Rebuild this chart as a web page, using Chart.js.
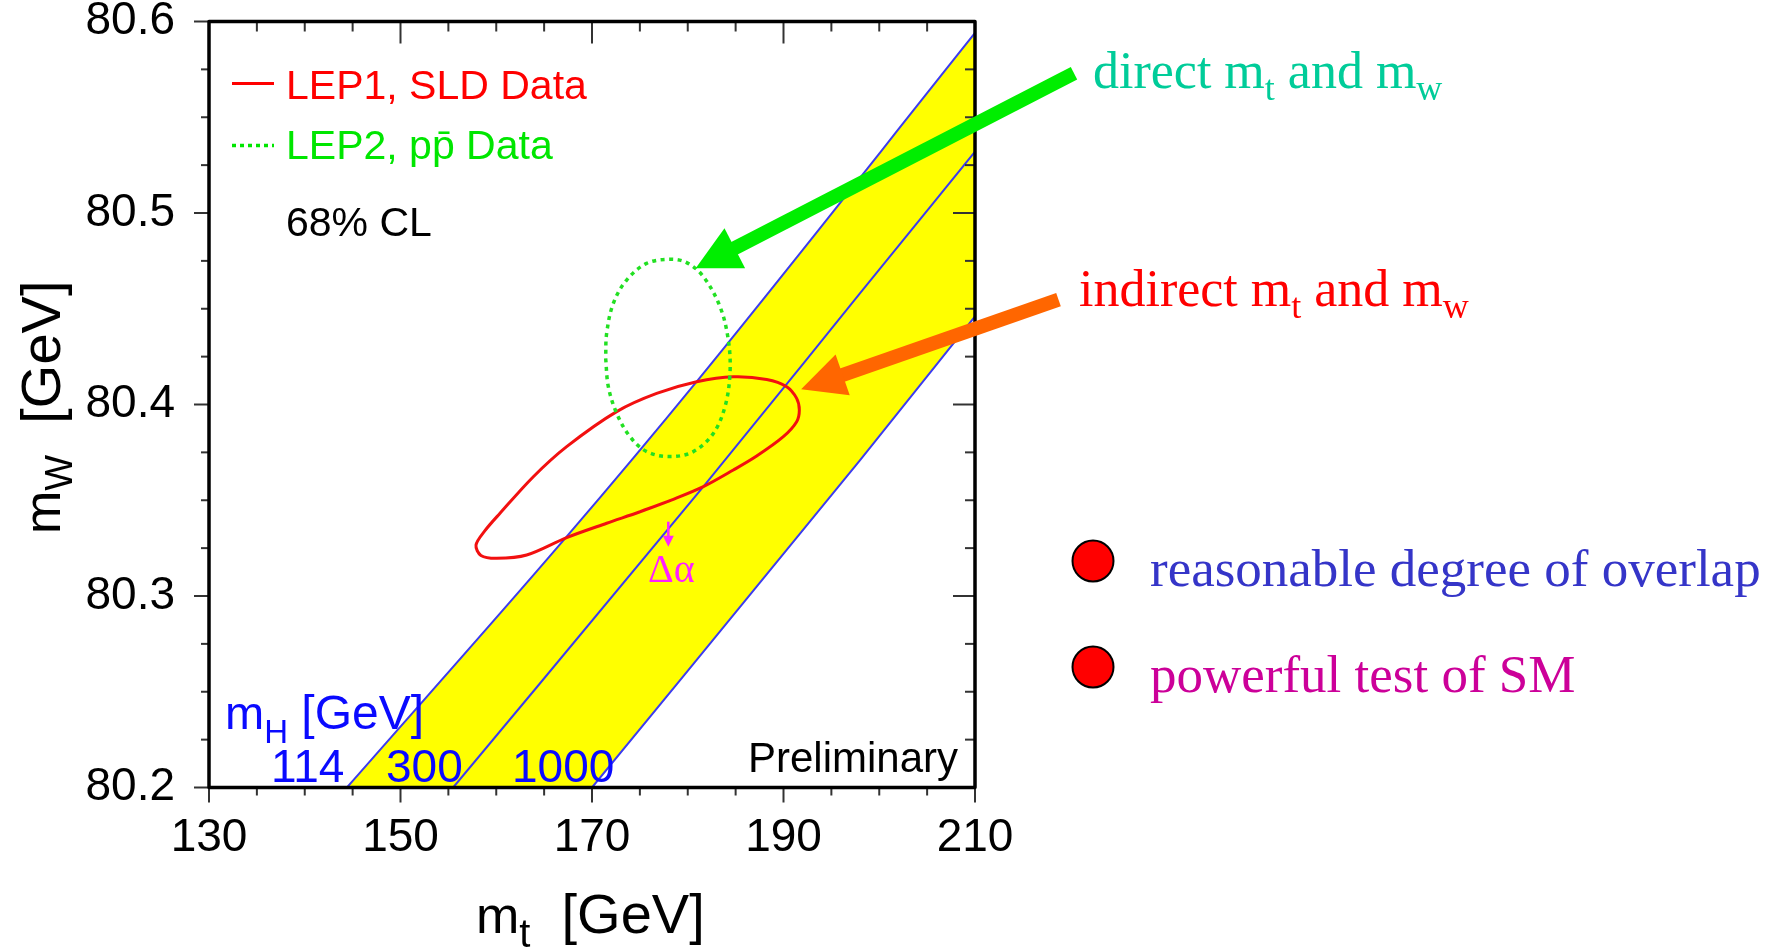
<!DOCTYPE html>
<html><head><meta charset="utf-8">
<script src="https://cdn.jsdelivr.net/npm/chart.js@4.4.1/dist/chart.umd.min.js"></script>
<style>html,body{margin:0;padding:0;background:#fff;}canvas{display:block;}</style>
</head><body>
<canvas id="c" width="1782" height="951"></canvas>
<script>
// ---------------- data ----------------
const mtRange = [130, 210];                 // m_t axis [GeV]
const mwRange = [80.2, 80.6];               // m_W axis [GeV]
const mtTickLabels = [130, 150, 170, 190, 210];
const mwTickLabels = [80.2, 80.3, 80.4, 80.5, 80.6];
const mtMinorStep = 5;
const mwMinorStep = 0.025;

// SM prediction lines for m_H = 114, 300, 1000 GeV  [m_t, m_W]
const smLine114  = [[144.4,80.2],[167.35,80.331],[180.93,80.412],[210,80.594]];
const smLine300  = [[155.5,80.2],[181.63,80.3571],[198.0,80.4581],[210,80.532]];
const smLine1000 = [[170.0,80.2],[198.0,80.371],[210,80.446]];
const higgsMassLabels = ['114', '300', '1000'];

// 68% CL contour, LEP1 + SLD (indirect)
const lep1Contour = [
  [175.013,80.3440],[178.494,80.3505],[181.627,80.3571],[184.760,80.3658],[187.197,80.3731],
  [189.982,80.3832],[191.375,80.3910],[191.653,80.3971],[191.375,80.4032],[190.330,80.4093],
  [188.242,80.4131],[184.760,80.4145],[180.931,80.4119],[176.753,80.4058],[172.576,80.3963],
  [167.354,80.3780],[163.873,80.3623],[160.391,80.3432],[158.800,80.3340],[157.885,80.3266],
  [158.400,80.3212],[160.043,80.3197],[163.176,80.3214],[167.354,80.3305],[171.531,80.3380]
];
// 68% CL contour, LEP2 + Tevatron (direct)
const lep2Contour = [
  [171.427,80.4241],[171.705,80.4093],[172.576,80.3954],[173.968,80.3832],[175.709,80.3754],
  [178.146,80.3728],[180.583,80.3754],[182.671,80.3849],[183.890,80.3989],[184.412,80.4163],
  [184.238,80.4337],[183.368,80.4511],[181.627,80.4668],[179.887,80.4741],[178.146,80.4758],
  [175.709,80.4737],[173.620,80.4650],[172.228,80.4528],[171.531,80.4372]
];
// Delta-alpha shift arrow [m_t, m_W]
const deltaAlphaArrow = [[177.97, 80.3388], [177.97, 80.3257]];
// annotation arrows (tail, tip) in [m_t, m_W]
const directArrow   = [[220.34, 80.5730], [180.83, 80.4711]];
const indirectArrow = [[218.72, 80.4548], [191.84, 80.4079]];

// ---------------- styling / layout ----------------
const SANS  = '"Liberation Sans", Arial, Helvetica, sans-serif';
const SERIF = '"Liberation Serif", "Times New Roman", Times, serif';
const C = {
  yellow: '#ffff00', blue: '#3c3cf0', red: '#f21010', green: '#22e022',
  legRed: '#ff0000', legGreen: '#00e600', mh: '#0a0aff', mag: '#ff22ff',
  arrGreen: '#00ee00', arrOrange: '#ff6600', teal: '#00cc99', indirect: '#ff0000',
  b1: '#3535c8', b2: '#cc0099'
};

const pts = a => a.map(([x, y]) => ({x, y}));
const closed = (a, extra) => { const p = pts(a); return p.concat(p.slice(0, extra)); };

function rich(ctx, x, y, parts, color) {
  let cx = x;
  ctx.fillStyle = color;
  ctx.textBaseline = 'alphabetic';
  ctx.textAlign = 'left';
  for (const p of parts) {
    ctx.font = `${p.s}px ${p.f || SANS}`;
    ctx.fillText(p.t, cx, y + (p.dy || 0));
    cx += ctx.measureText(p.t).width;
  }
}
function arrow(ctx, x1, y1, x2, y2, w, hl, hw, color) {
  const dx = x2 - x1, dy = y2 - y1, L = Math.hypot(dx, dy);
  const ux = dx / L, uy = dy / L;
  const bx = x2 - ux * hl, by = y2 - uy * hl;
  ctx.strokeStyle = color; ctx.fillStyle = color; ctx.lineWidth = w; ctx.lineCap = 'butt';
  ctx.beginPath(); ctx.moveTo(x1, y1); ctx.lineTo(bx + ux * 2, by + uy * 2); ctx.stroke();
  ctx.beginPath(); ctx.moveTo(x2, y2);
  ctx.lineTo(bx - uy * hw / 2, by + ux * hw / 2);
  ctx.lineTo(bx + uy * hw / 2, by - ux * hw / 2);
  ctx.closePath(); ctx.fill();
}

const overlay = {
  id: 'overlay',
  afterDraw(chart) {
    const {ctx, chartArea: ca, scales: {x, y}} = chart;
    const X = v => x.getPixelForValue(v), Y = v => y.getPixelForValue(v);
    const seg = (a, b, c, d) => { ctx.beginPath(); ctx.moveTo(a, b); ctx.lineTo(c, d); ctx.stroke(); };
    ctx.save();
    // tick marks: outward on left/bottom, inward on top/right
    ctx.strokeStyle = '#333'; ctx.lineWidth = 2; ctx.lineCap = 'butt';
    const nX = Math.round((mtRange[1] - mtRange[0]) / mtMinorStep);
    for (let i = 0; i <= nX; i++) {
      const v = mtRange[0] + i * mtMinorStep;
      const major = mtTickLabels.some(t => Math.abs(t - v) < 1e-6);
      const px = X(v);
      seg(px, ca.bottom, px, ca.bottom + (major ? 15 : 8));
      seg(px, ca.top, px, ca.top + (major ? 22 : 10));
    }
    const nY = Math.round((mwRange[1] - mwRange[0]) / mwMinorStep);
    for (let i = 0; i <= nY; i++) {
      const v = mwRange[0] + i * mwMinorStep;
      const major = mwTickLabels.some(t => Math.abs(t - v) < 1e-6);
      const py = Y(v);
      seg(ca.left - (major ? 15 : 8), py, ca.left, py);
      seg(ca.right - (major ? 22 : 10), py, ca.right, py);
    }
    // frame
    ctx.strokeStyle = '#000'; ctx.lineWidth = 3.5; ctx.lineJoin = 'round';
    ctx.strokeRect(ca.left, ca.top, ca.width, ca.height);

    // legend
    ctx.lineWidth = 3; ctx.strokeStyle = C.legRed; ctx.setLineDash([]);
    seg(ca.left + 23, ca.top + 62, ca.left + 65, ca.top + 62);
    ctx.strokeStyle = C.legGreen; ctx.setLineDash([4, 4]); ctx.lineWidth = 3.5;
    seg(ca.left + 23, ca.top + 124, ca.left + 65, ca.top + 124);
    ctx.setLineDash([]);
    rich(ctx, ca.left + 77, ca.top + 77, [{t: 'LEP1, SLD Data', s: 41}], C.legRed);
    rich(ctx, ca.left + 77, ca.top + 137, [{t: 'LEP2, pp\u0304 Data', s: 41}], C.legGreen);
    rich(ctx, ca.left + 77, ca.top + 214, [{t: '68% CL', s: 41}], '#000');

    // m_H labels
    rich(ctx, ca.left + 16, ca.bottom - 59, [{t: 'm', s: 47}, {t: 'H', s: 33, dy: 14}, {t: ' [GeV]', s: 48}], C.mh);
    ctx.font = `46px ${SANS}`; ctx.fillStyle = C.mh;
    const hx = [ca.left + 62, ca.left + 177, ca.left + 303];
    higgsMassLabels.forEach((t, i) => ctx.fillText(t, hx[i], ca.bottom - 6));
    // Preliminary
    ctx.textAlign = 'right'; ctx.fillStyle = '#000'; ctx.font = `42px ${SANS}`;
    ctx.fillText('Preliminary', ca.right - 17, ca.bottom - 16);
    ctx.textAlign = 'left';

    // delta alpha arrow
    const ax = X(deltaAlphaArrow[0][0]);
    arrow(ctx, ax, Y(deltaAlphaArrow[0][1]), ax, Y(deltaAlphaArrow[1][1]), 2.5, 11, 11, C.mag);
    ctx.font = `40px ${SERIF}`; ctx.fillStyle = C.mag; ctx.textAlign = 'center';
    ctx.fillText('\u0394\u03b1', ax + 3, Y(deltaAlphaArrow[1][1]) + 35);
    ctx.textAlign = 'left';

    // axis titles
    rich(ctx, 476, 933, [{t: 'm', s: 52}, {t: 't', s: 40, dy: 14}, {t: '  [GeV]', s: 56}], '#000');
    ctx.save(); ctx.translate(60, 534); ctx.rotate(-Math.PI / 2);
    rich(ctx, 0, 0, [{t: 'm', s: 52}, {t: 'W', s: 38, dy: 12}, {t: '  [GeV]', s: 56}], '#000');
    ctx.restore();

    // annotation arrows
    arrow(ctx, X(directArrow[0][0]), Y(directArrow[0][1]), X(directArrow[1][0]), Y(directArrow[1][1]), 14, 44, 45, C.arrGreen);
    arrow(ctx, X(indirectArrow[0][0]), Y(indirectArrow[0][1]), X(indirectArrow[1][0]), Y(indirectArrow[1][1]), 14, 44, 43, C.arrOrange);

    // right-hand text
    rich(ctx, 1093, 88, [{t: 'direct m', s: 52, f: SERIF}, {t: 't', s: 36, dy: 12, f: SERIF},
                         {t: ' and m', s: 52, f: SERIF}, {t: 'w', s: 36, dy: 12, f: SERIF}], C.teal);
    rich(ctx, 1079, 306, [{t: 'indirect m', s: 52, f: SERIF}, {t: 't', s: 36, dy: 12, f: SERIF},
                          {t: ' and m', s: 52, f: SERIF}, {t: 'w', s: 36, dy: 12, f: SERIF}], C.indirect);
    const bullets = [[561, 'reasonable degree of overlap', C.b1], [667, 'powerful test of SM', C.b2]];
    for (const [by, txt, col] of bullets) {
      ctx.beginPath(); ctx.arc(1093, by, 20.5, 0, Math.PI * 2);
      ctx.fillStyle = '#ff0000'; ctx.fill();
      ctx.lineWidth = 2; ctx.strokeStyle = '#000'; ctx.stroke();
      rich(ctx, 1150, by + 25, [{t: txt, s: 53, f: SERIF}], col);
    }
    ctx.restore();
  }
};

const tickFont = {family: SANS, size: 46, lineHeight: 0.8};
const smStyle = {borderColor: C.blue, borderWidth: 2, pointRadius: 0, fill: false, order: 10, cubicInterpolationMode: 'monotone'};
new Chart(document.getElementById('c'), {
  type: 'line',
  data: {
    datasets: [
      // yellow SM band: below the m_H = 114 line ...
      {label: 'band', data: pts(smLine114), borderWidth: 0, pointRadius: 0, backgroundColor: C.yellow,
       fill: 'start', order: 30, cubicInterpolationMode: 'monotone'},
      // ... and above the m_H = 1000 line (area below it is left blank)
      {label: 'band edge', data: pts(smLine1000), borderWidth: 0, pointRadius: 0, backgroundColor: '#ffffff',
       fill: 'start', order: 25, cubicInterpolationMode: 'monotone'},
      Object.assign({label: 'mH 114', data: pts(smLine114)}, smStyle),
      Object.assign({label: 'mH 300', data: pts(smLine300)}, smStyle),
      Object.assign({label: 'mH 1000', data: pts(smLine1000)}, smStyle),
      {label: 'LEP1, SLD Data', data: closed(lep1Contour, 2), borderColor: C.red, borderWidth: 3, pointRadius: 0,
       fill: false, order: 2, tension: 0.32},
      {label: 'LEP2, pp\u0304 Data', data: closed(lep2Contour, 1), borderColor: C.green, borderWidth: 3.5,
       borderDash: [4, 4.5], pointRadius: 0, fill: false, order: 1, tension: 0.35}
    ]
  },
  options: {
    responsive: false, animation: false, events: [],
    layout: {padding: {left: 0, right: 807, top: 21.5, bottom: 63.5}},
    plugins: {legend: {display: false}, tooltip: {enabled: false}},
    scales: {
      x: {type: 'linear', min: mtRange[0], max: mtRange[1],
          grid: {display: false}, border: {display: false},
          ticks: {stepSize: 20, autoSkip: false, maxRotation: 0, color: '#000', font: tickFont, padding: 24,
                  callback: v => String(v)},
          afterFit: s => { s.height = 100; s.paddingLeft = 0; s.paddingRight = 0; }},
      y: {type: 'linear', min: mwRange[0], max: mwRange[1],
          grid: {display: false}, border: {display: false},
          ticks: {stepSize: 0.1, color: '#000', font: tickFont, padding: 26,
                  callback: v => Number(v).toFixed(1)},
          afterFit: s => { s.width = 209; s.paddingTop = 0; s.paddingBottom = 0; }}
    }
  },
  plugins: [overlay]
});
</script>
</body></html>
